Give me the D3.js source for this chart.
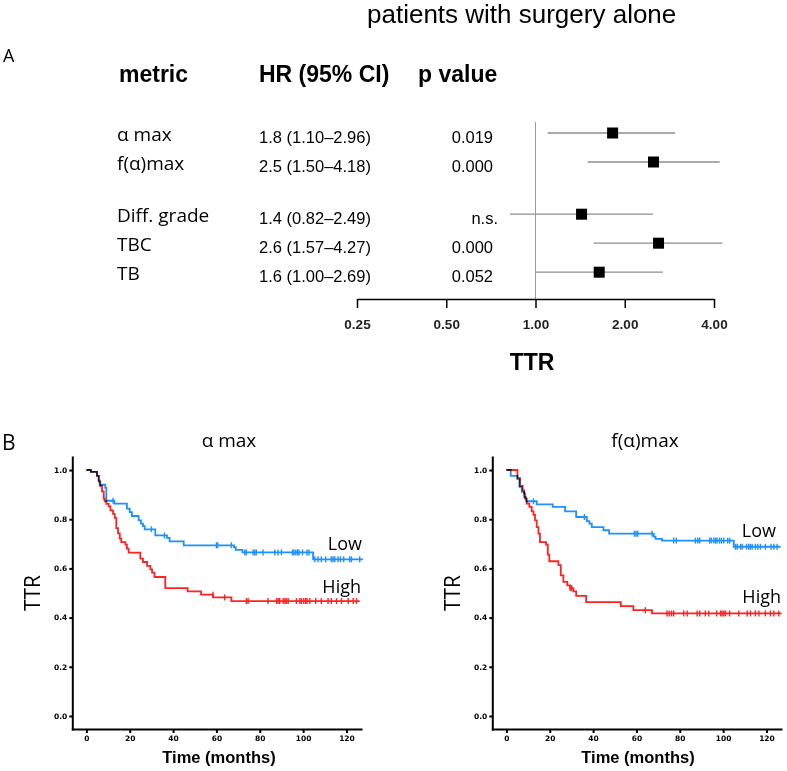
<!DOCTYPE html>
<html>
<head>
<meta charset="utf-8">
<script src="https://cdn.jsdelivr.net/npm/d3@7"></script>
<style>
  html, body { margin: 0; padding: 0; background: #fff; }
  svg { display: block; }
  .sans { font-family: "Liberation Sans", Arial, Helvetica, sans-serif; }
  .human { font-family: "Open Sans", "Noto Sans", sans-serif; }
  .km-axis text { font-family: "DejaVu Sans", sans-serif; font-weight: bold; font-size: 7.5px; fill: #000; }
  .km-axis path, .km-axis line { stroke: #000; stroke-width: 2; }
</style>
</head>
<body>
<svg id="chart" width="787" height="771"></svg>
<script>
/* ---- Panel A: forest plot data -------------------------------------- */
var metrics   = ['α max', 'f(α)max', 'Diff. grade', 'TBC', 'TB'];
var groups    = [0, 0, 1, 1, 1];                 // blank gap between the two blocks
var hrText    = ['1.8 (1.10–2.96)', '2.5 (1.50–4.18)', '1.4 (0.82–2.49)', '2.6 (1.57–4.27)', '1.6 (1.00–2.69)'];
var pText     = ['0.019', '0.000', 'n.s.', '0.000', '0.052'];
var hrPoint   = [1.82, 2.5, 1.43, 2.6, 1.64];    // square positions as drawn
var ciLow     = [1.10, 1.50, 0.82, 1.57, 1.00];
var ciHigh    = [2.96, 4.18, 2.49, 4.27, 2.69];
var hrTicks   = [0.25, 0.5, 1, 2, 4];

/* ---- Panel B: Kaplan-Meier step curves [months, TTR] ----------------- */
var alphaLow = [[0,1],[2.1,0.992],[4.9,0.976],[5.7,0.958],[6.1,0.94],[8.7,0.927],[9.2,0.875],
  [12.9,0.863],[18.7,0.843],[20,0.829],[21,0.813],[24.1,0.795],[25.2,0.782],[26.1,0.772],
  [26.9,0.759],[31.8,0.734],[37.2,0.724],[38.4,0.71],[44.9,0.694],[68.1,0.686],[68.9,0.675],
  [72,0.665],[104.6,0.637],[127.6,0.637]];
var alphaHigh = [[0,1],[2.1,0.992],[4.9,0.976],[5.7,0.954],[6.4,0.935],[7.2,0.913],[8,0.884],
  [8.4,0.873],[9.2,0.862],[10.3,0.852],[11.1,0.836],[12.3,0.822],[13.1,0.805],[13.8,0.764],
  [14.6,0.742],[15.4,0.721],[16.1,0.707],[18,0.697],[18.7,0.68],[19.5,0.664],[24.9,0.64],
  [26.1,0.626],[28,0.61],[29.5,0.596],[30.3,0.583],[31.4,0.565],[36.4,0.52],[46.7,0.507],
  [52.9,0.493],[58.5,0.482],[66.9,0.467],[126.1,0.467]];
var alphaLowCens = [12.3,30,36,60,60.6,66.9,73.1,73.8,76.9,77.7,78.4,81.5,86.9,88.4,90,95.1,
  95.7,96.6,97.4,98.1,99.7,101.8,102.7,105.4,106.9,108.4,110.4,113,113.8,114.6,116.1,117.2,
  118.7,121.5,122.3,126.1];
var alphaHighCens = [58.4,63.8,73.8,74.6,83.8,87.7,88.5,89.2,90.8,91.6,92.3,93.1,96.9,98.5,
  99.2,100.3,101.2,101.8,103.1,105.8,108.4,111.5,113,115.4,117.7,120.8,123.1,124.6];

var faLow = [[0,1],[2,0.976],[5.1,0.963],[6,0.931],[7.1,0.911],[8.2,0.89],[9.1,0.873],[14,0.86],
  [21.4,0.85],[27.1,0.832],[32.2,0.809],[37.1,0.792],[38.3,0.782],[39.4,0.768],[44.8,0.755],
  [47.4,0.741],[68,0.729],[68.8,0.72],[71.8,0.713],[104.9,0.688],[126.5,0.688]];
var faHigh = [[0,1],[5.1,0.967],[6.3,0.935],[7.5,0.917],[8.2,0.904],[8.6,0.884],[9.4,0.863],
  [10.6,0.85],[11.7,0.832],[12.5,0.818],[13.2,0.795],[14,0.768],[14.8,0.741],[15.5,0.707],
  [18.3,0.697],[19.1,0.656],[19.8,0.629],[24,0.613],[25.1,0.572],[26.3,0.545],[28.1,0.531],
  [29.4,0.52],[30.9,0.507],[32.2,0.488],[36.8,0.463],[52.8,0.447],[58.6,0.43],[67.2,0.417],
  [127,0.417]];
var faLowCens = [12.5,36,59.1,59.8,60.6,67.2,77.2,78.4,87.2,88.3,89.2,93.8,94.5,95.7,96.5,97.2,
  98.3,99.2,100.3,102.1,103,105.7,106.5,108,108.8,110.8,111.8,112.6,113.4,114.9,116,117.2,
  119.5,122.1,123.4,124.9];
var faHighCens = [29.4,30.1,64.1,74.1,75.1,76.2,77.2,81.8,83.4,88,89.2,91.8,93.4,97,98.8,99.5,
  100.3,101.1,103,107.2,111.1,112.6,114.9,116.5,119.5,121.8,123.4,125.7];

var timeTicks = [0, 20, 40, 60, 80, 100, 120];
var ttrTicks  = [0, 0.2, 0.4, 0.6, 0.8, 1.0];

var COLORS = { low: '#1e90ff', high: '#ff2222', ci: '#8c8c8c', ref: '#9a9a9a' };

var svg = d3.select('#chart');

/* ---- Panel A --------------------------------------------------------- */
svg.append('text').attr('class', 'sans').attr('x', 367).attr('y', 23)
  .attr('font-size', 26).text('patients with surgery alone');
svg.append('text').attr('class', 'human').attr('x', 3).attr('y', 62)
  .attr('font-size', 18).text('A');

[['metric', 119], ['HR (95% CI)', 259], ['p value', 418]].forEach(function (h) {
  svg.append('text').attr('class', 'sans').attr('x', h[1]).attr('y', 82)
    .attr('font-size', 23).attr('font-weight', 'bold').text(h[0]);
});

var rowY = d3.scaleLinear().domain([0, 1]).range([133, 162]);
function ry(i) { return rowY(i + groups[i] * 0.8); }

var hx = d3.scaleLog().base(2).domain([0.25, 4]).range([357, 714]);

var rows = svg.append('g').selectAll('g').data(metrics).join('g');
rows.append('text').attr('class', 'human').attr('x', 117)
  .attr('y', function (d, i) { return ry(i) + 8; })
  .attr('font-size', 19).text(function (d) { return d; });
rows.append('text').attr('class', 'sans').attr('x', 259)
  .attr('y', function (d, i) { return ry(i) + 9.5; })
  .attr('font-size', 16.5).text(function (d, i) { return hrText[i]; });
rows.append('text').attr('class', 'sans').attr('text-anchor', 'end')
  .attr('x', function (d, i) { return pText[i] === 'n.s.' ? 498 : 493; })
  .attr('y', function (d, i) { return ry(i) + 9.5; })
  .attr('font-size', 16.5).text(function (d, i) { return pText[i]; });

svg.append('line').attr('x1', hx(1)).attr('x2', hx(1)).attr('y1', 122).attr('y2', 299)
  .attr('stroke', COLORS.ref).attr('stroke-width', 1);

rows.append('line')
  .attr('x1', function (d, i) { return hx(ciLow[i]); })
  .attr('x2', function (d, i) { return hx(ciHigh[i]); })
  .attr('y1', function (d, i) { return ry(i); })
  .attr('y2', function (d, i) { return ry(i); })
  .attr('stroke', COLORS.ci).attr('stroke-width', 1.3);
rows.append('rect')
  .attr('x', function (d, i) { return hx(hrPoint[i]) - 5.5; })
  .attr('y', function (d, i) { return ry(i) - 5.5; })
  .attr('width', 11).attr('height', 11).attr('fill', '#000');

var hAxis = svg.append('g').attr('transform', 'translate(0,299)')
  .call(d3.axisBottom(hx).tickValues(hrTicks).tickFormat(d3.format('.2f'))
    .tickSize(9).tickSizeOuter(0).tickPadding(11));
hAxis.select('.domain').attr('stroke', '#000').attr('stroke-width', 1.5);
hAxis.selectAll('.tick line').attr('stroke', '#000').attr('stroke-width', 1.5);
hAxis.selectAll('text').attr('class', 'sans').attr('font-size', 13.5)
  .attr('font-weight', 'bold').attr('fill', '#222');

svg.append('text').attr('class', 'sans').attr('x', 532).attr('y', 370)
  .attr('text-anchor', 'middle').attr('font-size', 23).attr('font-weight', 'bold').text('TTR');

/* ---- Panel B --------------------------------------------------------- */
svg.append('text').attr('class', 'human').attr('x', 2).attr('y', 450)
  .attr('font-size', 21).text('B');

function kmPanel(opt) {
  var x = d3.scaleLinear().domain([-6.5, 126.7]).range([opt.left, opt.left + 288.7]);
  var y = d3.scaleLinear().domain([0, 1]).range([716, 470]);
  var g = svg.append('g');

  var yAx = g.append('g').attr('class', 'km-axis').attr('transform', 'translate(' + opt.left + ',0)')
    .call(d3.axisLeft(y.copy().domain([-0.053, 1.053]).range([729, 457]))
      .tickValues(ttrTicks).tickFormat(d3.format('.1f')).tickSize(3).tickSizeOuter(0).tickPadding(2));
  var xAx = g.append('g').attr('class', 'km-axis').attr('transform', 'translate(0,729)')
    .call(d3.axisBottom(x).tickValues(timeTicks).tickSize(4).tickSizeOuter(0).tickPadding(3));
  yAx.select('.domain').attr('stroke-linecap', 'square');
  xAx.select('.domain').attr('stroke-linecap', 'square');

  var line = d3.line().x(function (d) { return x(d[0]); }).y(function (d) { return y(d[1]); })
    .curve(d3.curveStepAfter);
  var bis = d3.bisector(function (d) { return d[0]; }).right;

  [[opt.low, opt.lowCens, COLORS.low], [opt.high, opt.highCens, COLORS.high]].forEach(function (c) {
    var pts = c[0];
    g.append('path').datum(pts).attr('d', line).attr('fill', 'none')
      .attr('stroke', c[2]).attr('stroke-width', 1.8).style('mix-blend-mode', 'multiply');
    g.append('g').selectAll('line').data(c[1]).join('line')
      .attr('x1', function (t) { return x(t); }).attr('x2', function (t) { return x(t); })
      .attr('y1', function (t) { return y(pts[bis(pts, t) - 1][1]) - 3; })
      .attr('y2', function (t) { return y(pts[bis(pts, t) - 1][1]) + 3; })
      .attr('stroke', c[2]).attr('stroke-width', 1.4);
  });

  g.append('text').attr('class', 'human').attr('x', opt.titleX).attr('y', 447)
    .attr('text-anchor', 'middle').attr('font-size', 19).text(opt.title);
  g.append('text').attr('class', 'sans').attr('x', opt.timeX).attr('y', 763)
    .attr('text-anchor', 'middle').attr('font-size', 16.5).attr('font-weight', 'bold')
    .text('Time (months)');
  g.append('text').attr('class', 'human')
    .attr('transform', 'translate(' + (opt.left - 32) + ',593) rotate(-90)')
    .attr('text-anchor', 'middle').attr('font-size', 21).text('TTR');
  g.append('text').attr('class', 'human').attr('x', opt.labelX[0]).attr('y', y(opt.labelS[0]))
    .attr('text-anchor', 'end').attr('font-size', 18).text('Low');
  g.append('text').attr('class', 'human').attr('x', opt.labelX[1]).attr('y', y(opt.labelS[1]))
    .attr('text-anchor', 'end').attr('font-size', 18).text('High');
}

kmPanel({ left: 72.3, title: 'α max', titleX: 229, timeX: 219,
  low: alphaLow, high: alphaHigh, lowCens: alphaLowCens, highCens: alphaHighCens,
  labelX: [362, 361], labelS: [0.675, 0.5] });
kmPanel({ left: 492.3, title: 'f(α)max', titleX: 645, timeX: 638,
  low: faLow, high: faHigh, lowCens: faLowCens, highCens: faHighCens,
  labelX: [776, 781], labelS: [0.728, 0.459] });
</script>
</body>
</html>
